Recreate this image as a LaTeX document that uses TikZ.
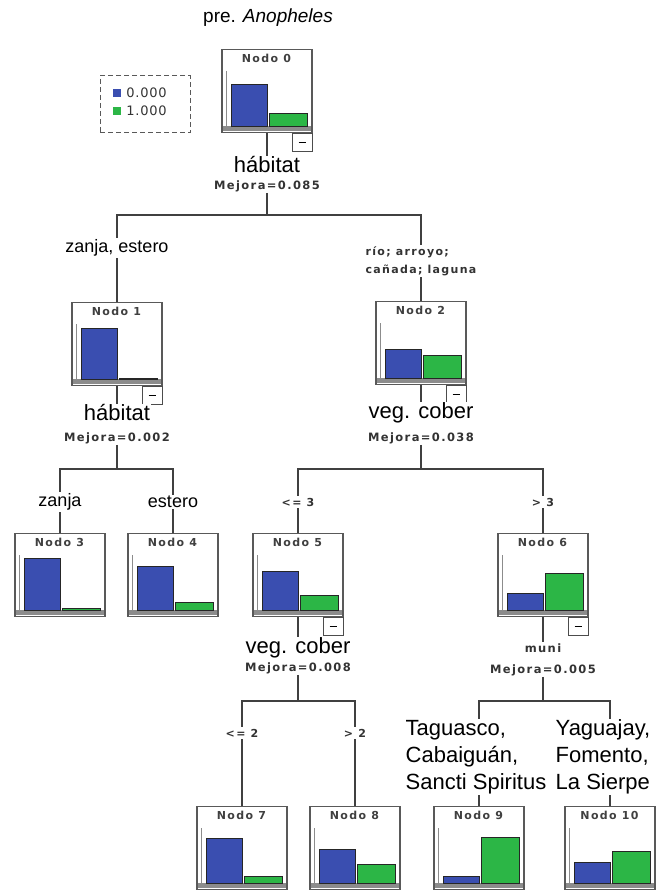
\documentclass[tikz,border=0pt]{standalone}
\usepackage{fontspec}
\setmainfont{Liberation Sans}
\newfontfamily\spssfont[LetterSpace=12]{DejaVu Sans}
\newfontfamily\keyfont[LetterSpace=6]{DejaVu Sans}
\usepackage{tikz}
\usetikzlibrary{arrows.meta}
\definecolor{barBlue}{RGB}{58,78,176}
\definecolor{barGreen}{RGB}{44,182,70}
\tikzset{%
  >={Latex[width=2mm,length=2mm]},
  nodeBox/.style = {rectangle, draw=black!65, line width=1.1pt, fill=white,
      minimum width=90pt, minimum height=83pt, inner sep=0pt, anchor=north},
  nodeTitle/.style = {font=\spssfont\bfseries\fontsize{11}{13}\selectfont,
      text=black!75, inner sep=0pt},
  splitText/.style = {font=\fontsize{22}{26}\selectfont, inner sep=1pt, fill=white},
  gainText/.style = {font=\spssfont\bfseries\fontsize{11.5}{13}\selectfont,
      text=black!80, inner sep=1pt, fill=white},
  branchText/.style = {font=\fontsize{18}{21}\selectfont, inner sep=1.5pt, fill=white},
  condText/.style = {font=\spssfont\bfseries\fontsize{11}{18}\selectfont,
      text=black!80, inner sep=1.5pt, fill=white},
  muniText/.style = {font=\fontsize{22}{27}\selectfont, align=left,
      inner sep=1pt, fill=white},
  minusBox/.style = {rectangle, draw=black!70, line width=1pt, fill=white,
      minimum width=20pt, minimum height=18pt, inner sep=0pt, anchor=north east},
  treeLine/.style = {draw=black!75, line width=1.3pt},
  barLine/.style = {draw=black!85, line width=0.9pt},
  axisLine/.style = {draw=black!45, line width=1pt},
  baseBar/.style = {fill=black!45},
  legendBox/.style = {draw=black!65, line width=1pt, dash pattern=on 5pt off 3pt,
      minimum width=90pt, minimum height=57pt, inner sep=0pt},
  keyBox/.style = {minimum size=8pt, inner sep=0pt},
  keyText/.style = {font=\keyfont\fontsize{13}{15}\selectfont, text=black!80,
      inner sep=0pt, anchor=west},
}
% tree node: name, x, top, title, blue height, green height
\newcommand{\treeNode}[6]{%
  \node[nodeBox] (#1) at (#2,#3) {};
  \begin{scope}[shift={(#1.north west)}]
    \node[nodeTitle] at (45,9) {#4};
    \fill[baseBar] (2,77) rectangle (90,82);
    \draw[axisLine] (5,22) -- (5,80);
    \filldraw[barLine, fill=barBlue] (10,77) rectangle (46,{77-#5});
    \filldraw[barLine, fill=barGreen] (48,77) rectangle (86,{77-#6});
  \end{scope}
}
\newcommand{\collapseBox}[1]{%
  \node[minusBox] (#1minus) at (#1.south east) {\rule[1pt]{7pt}{1pt}};}

\begin{document}
\begin{tikzpicture}[x=1pt, y=-1pt]
  \useasboundingbox (0,0) rectangle (659,893);
  % title and legend
  \node[font=\fontsize{19}{22}\selectfont] (title) at (268,18)
                                                  {pre. \textit{Anopheles}};
  \node[legendBox] (legend) at (145,104.5) {};
  \node[keyBox, fill=barBlue]  (key0) at (117,93)  {};
  \node[keyBox, fill=barGreen] (key1) at (117,111) {};
  \node[keyText] (keyLabel0) at ([xshift=5pt]key0.east) {0.000};
  \node[keyText] (keyLabel1) at ([xshift=5pt]key1.east) {1.000};

  % Specification of nodes (position, etc.)
  \treeNode{node0}{267}{49}{Nodo 0}{42}{13}
  \treeNode{node1}{117}{302}{Nodo 1}{51}{1}
  \treeNode{node2}{421}{301}{Nodo 2}{29}{23}
  \treeNode{node3}{60}{533}{Nodo 3}{52}{1.5}
  \treeNode{node4}{173}{533}{Nodo 4}{44}{8}
  \treeNode{node5}{298}{533}{Nodo 5}{39}{15}
  \treeNode{node6}{543}{533}{Nodo 6}{17}{37}
  \treeNode{node7}{242}{806}{Nodo 7}{45}{7}
  \treeNode{node8}{355}{806}{Nodo 8}{34}{19}
  \treeNode{node9}{479}{806}{Nodo 9}{7}{46}
  \treeNode{node10}{610}{806}{Nodo 10}{21}{32}
  \collapseBox{node0}
  \collapseBox{node1}
  \collapseBox{node2}
  \collapseBox{node5}
  \collapseBox{node6}

  % split variables
  \node[splitText] (split0) at (267,165) {hábitat};
  \node[gainText]  (gain0)  at (267,186) {Mejora=0.085};
  \node[splitText] (split1) at (117,413) {hábitat};
  \node[gainText]  (gain1)  at (117,438) {Mejora=0.002};
  \node[splitText] (split2) at (421,413) {veg. cober};
  \node[gainText]  (gain2)  at (421,438) {Mejora=0.038};
  \node[splitText] (split5) at (298,648) {veg. cober};
  \node[gainText]  (gain5)  at (298,668) {Mejora=0.008};
  \node[gainText]  (split6) at (543,648) {muni};
  \node[gainText]  (gain6)  at (543,670) {Mejora=0.005};
  \coordinate (fork0) at (267,215);
  \coordinate (fork1) at (117,469);
  \coordinate (fork2) at (421,469);
  \coordinate (fork5) at (298,701);
  \coordinate (fork6) at (543,701);

  % Specification of lines between nodes specified above
  \foreach \p/\a/\b in {0/1/2, 1/3/4, 2/5/6, 5/7/8, 6/9/10} {
    \draw[treeLine] (node\p.south) -- (split\p.north);
    \draw[treeLine] (gain\p.south) -- (fork\p);
    \draw[treeLine] (fork\p) -| (node\a.north);
    \draw[treeLine] (fork\p) -| (node\b.north);
  }

  % branch labels
  \node[branchText] (cond1) at (117,248) {zanja, estero};
  \node[condText, align=left] (cond2) at (421,261)
                                     {río; arroyo;\\cañada; laguna};
  \node[branchText] (cond3) at (60,502)  {zanja};
  \node[branchText] (cond4) at (173,502) {estero};
  \node[condText]   (cond5) at (298,502) {<= 3};
  \node[condText]   (cond6) at (543,502) {> 3};
  \node[condText]   (cond7) at (242,733) {<= 2};
  \node[condText]   (cond8) at (355,733) {> 2};
  \node[muniText]   (cond9) at (476,757)
                           {Taguasco,\\Cabaiguán,\\Sancti Spiritus};
  \node[muniText]   (cond10) at (603,757) {Yaguajay,\\Fomento,\\La Sierpe};
\end{tikzpicture}
\end{document}
